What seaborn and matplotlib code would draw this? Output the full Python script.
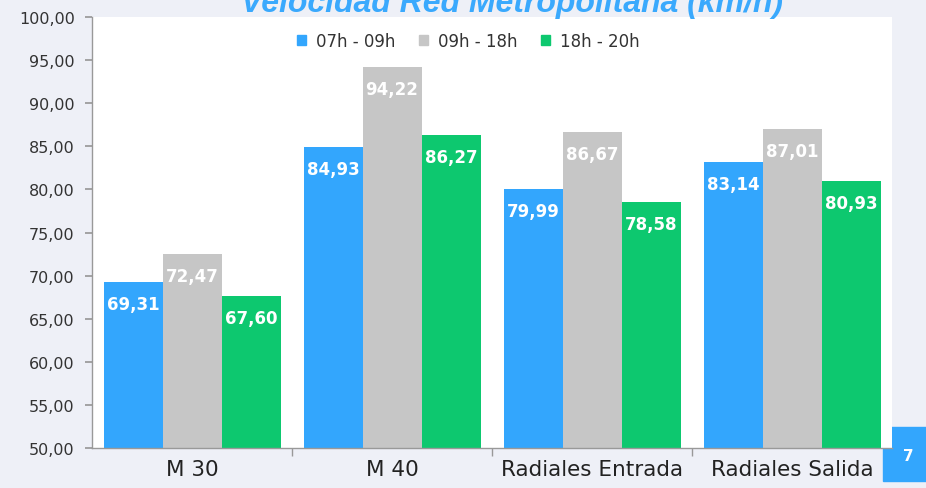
import matplotlib
matplotlib.use("Agg")
import matplotlib.pyplot as plt
import matplotlib.patches as mpatches
from matplotlib.ticker import FixedLocator, FuncFormatter
import seaborn as sns
import pandas as pd

categories = ["M 30", "M 40", "Radiales Entrada", "Radiales Salida"]
series_names = ["07h - 09h", "09h - 18h", "18h - 20h"]
v_0709 = [69.31, 84.93, 79.99, 83.14]
v_0918 = [72.47, 94.22, 86.67, 87.01]
v_1820 = [67.60, 86.27, 78.58, 80.93]
colors = ["#33a6fd", "#c6c6c6", "#0dc86f"]
title = "Velocidad Red Metropolitana (km/h)"
y_ticks = [50, 55, 60, 65, 70, 75, 80, 85, 90, 95, 100]

rows = []
for s, vals in zip(series_names, [v_0709, v_0918, v_1820]):
    for c, v in zip(categories, vals):
        rows.append({"cat": c, "serie": s, "val": v})
df = pd.DataFrame(rows)

sns.set_theme(style="white")
plt.rcParams["font.family"] = ["DejaVu Sans"]

W, H = 926, 489
fig = plt.figure(figsize=(W / 100, H / 100), dpi=100)
fig.patch.set_facecolor("#eef0f7")
ax = fig.add_axes([92 / W, 1 - 449 / H, (892 - 92) / W, (449 - 18) / H])
ax.set_facecolor("white")

sns.barplot(data=df, x="cat", y="val", hue="serie", order=categories,
            hue_order=series_names, palette=colors, width=0.885,
            saturation=1, linewidth=0, ax=ax, legend=False)

ax.set_ylim(50, 100)
ax.set_xlim(-0.5, 3.5)
ax.yaxis.set_major_locator(FixedLocator(y_ticks))
ax.yaxis.set_major_formatter(FuncFormatter(lambda v, p: f"{v:.2f}".replace(".", ",")))
ax.tick_params(axis="y", which="major", length=5, color="#999999", labelsize=11.5,
               labelcolor="#333333", left=True, pad=7.5)
ax.tick_params(axis="x", which="major", length=0, labelsize=15.5, labelcolor="#222222", pad=8)
ax.set_xticks(range(len(categories)))
ax.set_xticklabels(categories)
ax.xaxis.set_minor_locator(FixedLocator([0.5, 1.5, 2.5]))
ax.tick_params(axis="x", which="minor", length=6, color="#999999", bottom=True)
ax.set_xlabel("")
ax.set_ylabel("")
for sp in ["top", "right"]:
    ax.spines[sp].set_visible(False)
for sp in ["left", "bottom"]:
    ax.spines[sp].set_color("#999999")
    ax.spines[sp].set_linewidth(1)

for cont in ax.containers:
    for bar in cont:
        h = bar.get_height()
        ax.annotate(f"{h:.2f}".replace(".", ","),
                    (bar.get_x() + bar.get_width() / 2, h),
                    xytext=(0, -22), textcoords="offset pixels",
                    ha="center", va="center", color="white",
                    fontsize=12, fontweight="bold")

handles = [mpatches.Patch(color=c, label=s) for c, s in zip(colors, series_names)]
leg = ax.legend(handles=handles, loc="upper center",
                bbox_to_anchor=((468 - 92) / (892 - 92), 1.0),
                ncol=3, frameon=False, fontsize=12, handlelength=0.55,
                handleheight=0.55, handletextpad=0.6, columnspacing=1.4)
for t in leg.get_texts():
    t.set_color("#333333")

fig.text(512 / W, 1 - 12 / H, title, ha="center", va="baseline", color="#3aa9fd",
         fontsize=23, fontweight="bold", fontstyle="italic",
         family=["Liberation Sans", "DejaVu Sans"])

box = mpatches.Rectangle((883 / W, 1 - 482 / H), 43 / W, 54 / H,
                         transform=fig.transFigure, color="#33a6fd", zorder=-1)
fig.patches.append(box)
fig.text(908 / W, 1 - 457 / H, "7", ha="center", va="center", color="white",
         fontsize=11, fontweight="bold", zorder=6)

fig.savefig("out.png", dpi=100, facecolor=fig.get_facecolor())
